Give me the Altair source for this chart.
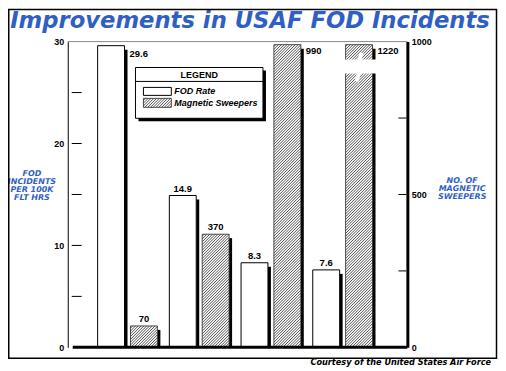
import altair as alt
import numpy as np
import pandas as pd

# ---------------- data ----------------
fod_rate = [29.6, 14.9, 8.3, 7.6]
sweepers = [70, 370, 990, 1220]
fod_label_ticks = [0, 10, 20, 30]
fod_minor_ticks = [5, 10, 15, 20, 25]
sw_label_ticks = [0, 500, 1000]
sw_minor_ticks = [250, 500, 750]
title_text = "Improvements in USAF FOD Incidents"
left_title = ["FOD", "INCIDENTS", "PER 100K", "FLT HRS"]
right_title = ["NO. OF", "MAGNETIC", "SWEEPERS"]
caption_text = "Courtesy of the United States Air Force"
legend_title = "LEGEND"
legend_labels = ["FOD Rate", "Magnetic Sweepers"]

# ---------------- layout / style ----------------
W, H = 341, 307
GROUP_PX = 72.0
X_MAX = W / GROUP_PX
FOD_OFF, SW_OFF, BAR_W = 30 / GROUP_PX, 63 / GROUP_PX, 27 / GROUP_PX
FOD_MAX, SW_MAX = 30, 1000
SW_CAP = 990          # broken bar is drawn up to this level
SH_DX = 3 / GROUP_PX  # drop-shadow width
SH_DROP_PX = 4
BLUE = "#2f5fc4"
LBL_FONT = "Liberation Sans"
HEAD_FONT = "DejaVu Sans"

xs = alt.Scale(domain=[0, X_MAX], nice=False, zero=False)
yl = alt.Scale(domain=[0, FOD_MAX], nice=False)
yr = alt.Scale(domain=[0, SW_MAX], nice=False)


def X(f):
    return alt.X(f"{f}:Q", scale=xs, axis=None)


def YL(f, axis=None):
    return alt.Y(f"{f}:Q", scale=yl, axis=axis)


def YR(f, axis=None):
    return alt.Y(f"{f}:Q", scale=yr, axis=axis)


one = pd.DataFrame({"k": [0]})

# bars tables
idx = np.arange(len(fod_rate))
fod = pd.DataFrame({"x": idx + FOD_OFF, "v": fod_rate})
fod["x2"] = fod["x"] + BAR_W
fod["xc"] = fod["x"] + BAR_W / 2
fod["sx2"] = fod["x2"] + SH_DX
fod["sy"] = fod["v"] - SH_DROP_PX * FOD_MAX / H
fod["zero"] = 0.0
fod["txt"] = [f"{v:.1f}" for v in fod_rate]
fod["frac"] = fod["v"] / FOD_MAX

sw = pd.DataFrame({"x": idx + SW_OFF, "v": sweepers})
sw["shown"] = np.minimum(sw["v"], SW_CAP)
sw["x2"] = sw["x"] + BAR_W
sw["xc"] = sw["x"] + BAR_W / 2
sw["sx2"] = sw["x2"] + SH_DX
sw["sy"] = sw["shown"] - SH_DROP_PX * SW_MAX / H
sw["zero"] = 0.0
sw["txt"] = [str(v) for v in sweepers]
sw["frac"] = sw["shown"] / SW_MAX


# hatch lines ("/" direction), computed in view pixels and converted to data units
def hatch(x0, x1, ytop, ybot, step=2.8):
    rows = []
    w, h = x1 - x0, ybot - ytop
    for c in np.arange(-w + step / 2, h, step):
        u0, u1 = max(0.0, -c), min(w, h - c)
        if u1 - u0 > 0.4:
            rows.append({
                "hx": (x0 + u0) / GROUP_PX, "hy": (u0 + c) / H * SW_MAX,
                "hx2": (x0 + u1) / GROUP_PX, "hy2": (u1 + c) / H * SW_MAX,
            })
    return rows


def px_to_val(ypx):
    return (H - ypx) / H * SW_MAX


bar_hatch = []
for _, r in sw.iterrows():
    x0, x1 = r["x"] * GROUP_PX, r["x2"] * GROUP_PX
    top = H - r["shown"] / SW_MAX * H
    for row in hatch(x0, x1, top, H):
        bar_hatch.append(row)
bar_hatch = pd.DataFrame(bar_hatch)

# legend geometry (view pixels)
LG = dict(x0=68, x1=196, y0=26, y1=77)
SW1 = dict(x0=76, x1=104, y0=46, y1=54)
SW2 = dict(x0=76, x1=104, y0=57, y1=66)
leg_h = []
for row in hatch(SW2["x0"], SW2["x1"], SW2["y0"], SW2["y1"]):
    off = (H - SW2["y1"]) / H * SW_MAX
    row["hy"] += off
    row["hy2"] += off
    leg_h.append(row)
leg_h = pd.DataFrame(leg_h)

# axis break of the 1220 bar: white band + white lightning crack
brk = sw.iloc[[3]].copy()
brk["bx"] = brk["x"] - 1 / GROUP_PX
brk["bx2"] = brk["sx2"] + 1 / GROUP_PX
brk["bu"] = px_to_val(18)
brk["bl"] = px_to_val(32)
crack = pd.DataFrame({
    "seq": [0, 1, 2, 3],
    "f": [0.60, 0.45, 0.56, 0.40],
    "py": [11, 24, 26, 40],
})
crack["cx"] = sw["x"].iloc[3] + crack["f"] * BAR_W
crack["cy"] = px_to_val(crack["py"])

left_axis = alt.Axis(orient="left", values=fod_label_ticks, ticks=False, grid=False,
                     domain=True, domainColor="black", domainWidth=1, title=None,
                     labelFont=LBL_FONT, labelFontWeight="bold", labelFontSize=9,
                     labelColor="black", labelPadding=4, format="d")
right_axis = alt.Axis(orient="right", values=sw_label_ticks, ticks=False, grid=False,
                      domain=True, domainColor="black", domainWidth=3, title=None,
                      labelFont=LBL_FONT, labelFontWeight="bold", labelFontSize=9,
                      labelColor="black", labelPadding=4, format="d")

layers = []

# top thin border of the plot
layers.append(alt.Chart(one).mark_rule(color="#888", strokeWidth=1).encode(
    x=alt.value(0), x2=alt.value(W), y=alt.value(0)))

# FOD shadows + bars
layers.append(alt.Chart(fod).mark_rect(color="black").encode(
    x=X("x2"), x2="sx2", y=YL("sy"), y2="zero"))
layers.append(alt.Chart(fod).mark_rect(fill="white", stroke="black", strokeWidth=1).encode(
    x=X("x"), x2="x2", y=YL("v", left_axis), y2="zero"))

# sweeper shadows + bars
layers.append(alt.Chart(sw).mark_rect(color="black").encode(
    x=X("x2"), x2="sx2", y=YR("sy"), y2="zero"))
layers.append(alt.Chart(sw).mark_rect(fill="white", stroke="#222", strokeWidth=0.8).encode(
    x=X("x"), x2="x2", y=YR("shown", right_axis), y2="zero"))
layers.append(alt.Chart(bar_hatch).mark_rule(color="#222", strokeWidth=0.8, strokeCap="butt").encode(
    x=X("hx"), x2="hx2", y=YR("hy"), y2="hy2"))

# axis break
layers.append(alt.Chart(brk).mark_rect(color="white").encode(
    x=X("bx"), x2="bx2", y=YR("bu"), y2="bl"))
layers.append(alt.Chart(crack).mark_line(color="white", strokeWidth=4, strokeCap="butt",
                                         strokeJoin="miter").encode(
    x=X("cx"), y=YR("cy"), order="seq:Q"))

# inward ticks
layers.append(alt.Chart(pd.DataFrame({"t": fod_minor_ticks})).mark_rule(color="black", strokeWidth=1).encode(
    y=YL("t"), x=alt.value(4), x2=alt.value(14)))
layers.append(alt.Chart(pd.DataFrame({"t": sw_minor_ticks})).mark_rule(color="black", strokeWidth=1).encode(
    y=YR("t"), x=alt.value(332), x2=alt.value(340)))

# bottom thick baseline
layers.append(alt.Chart(one).mark_rule(color="black", strokeWidth=3).encode(
    x=alt.value(5), x2=alt.value(W), y=alt.value(H)))

# value labels
lab = dict(font=LBL_FONT, fontWeight="bold", fontSize=9.5, color="black")
layers.append(alt.Chart(fod).transform_filter("datum.frac <= 0.9").mark_text(
    baseline="bottom", align="center", dy=-2, **lab).encode(
    x=X("xc"), y=YL("v"), text="txt:N"))
layers.append(alt.Chart(fod).transform_filter("datum.frac > 0.9").mark_text(
    baseline="top", align="left", dx=5, dy=3, **lab).encode(
    x=X("x2"), y=YL("v"), text="txt:N"))
layers.append(alt.Chart(sw).transform_filter("datum.frac <= 0.9").mark_text(
    baseline="bottom", align="center", dy=-2, **lab).encode(
    x=X("xc"), y=YR("shown"), text="txt:N"))
layers.append(alt.Chart(sw).transform_filter("datum.frac > 0.9").mark_text(
    baseline="top", align="left", dx=5, dy=1.5, **lab).encode(
    x=X("x2"), y=YR("shown"), text="txt:N"))

# legend
layers.append(alt.Chart(one).mark_rect(color="black").encode(
    x=alt.value(LG["x0"] + 3), x2=alt.value(LG["x1"] + 3),
    y=alt.value(LG["y0"] + 3), y2=alt.value(LG["y1"] + 3)))
layers.append(alt.Chart(one).mark_rect(fill="white", stroke="black", strokeWidth=1).encode(
    x=alt.value(LG["x0"]), x2=alt.value(LG["x1"]), y=alt.value(LG["y0"]), y2=alt.value(LG["y1"])))
layers.append(alt.Chart(one).mark_rule(color="black", strokeWidth=1).encode(
    x=alt.value(LG["x0"]), x2=alt.value(LG["x1"]), y=alt.value(40)))
layers.append(alt.Chart(one).mark_text(text=legend_title, font=LBL_FONT, fontWeight="bold",
                                       fontSize=9, baseline="middle", align="center").encode(
    x=alt.value((LG["x0"] + LG["x1"]) / 2), y=alt.value(33.5)))
layers.append(alt.Chart(one).mark_rect(fill="white", stroke="black", strokeWidth=1).encode(
    x=alt.value(SW1["x0"]), x2=alt.value(SW1["x1"]), y=alt.value(SW1["y0"]), y2=alt.value(SW1["y1"])))
layers.append(alt.Chart(one).mark_rect(fill="white", stroke="#222", strokeWidth=0.8).encode(
    x=alt.value(SW2["x0"]), x2=alt.value(SW2["x1"]), y=alt.value(SW2["y0"]), y2=alt.value(SW2["y1"])))
layers.append(alt.Chart(leg_h).mark_rule(color="#222", strokeWidth=0.8, strokeCap="butt").encode(
    x=X("hx"), x2="hx2", y=YR("hy"), y2="hy2"))
for lbl, yy in zip(legend_labels, [50, 61.5]):
    layers.append(alt.Chart(one).mark_text(text=lbl, font=LBL_FONT, fontWeight="bold", fontStyle="italic",
                                           fontSize=9, baseline="middle", align="left").encode(
        x=alt.value(107), y=alt.value(yy)))

# axis titles (first line positioned, following lines below)
ttl = dict(font=HEAD_FONT, fontWeight="bold", fontStyle="italic", fontSize=8, color=BLUE,
           align="center", baseline="middle", lineHeight=8)
layers.append(alt.Chart(one).mark_text(text=left_title, **ttl).encode(
    x=alt.value(-36), y=alt.value(133)))
layers.append(alt.Chart(one).mark_text(text=right_title, **ttl).encode(
    x=alt.value(396), y=alt.value(140)))

# main title
layers.append(alt.Chart(one).mark_text(text=title_text, font=HEAD_FONT, fontWeight="bold",
                                       fontStyle="italic", fontSize=22.8, color=BLUE,
                                       align="center", baseline="alphabetic").encode(
    x=alt.value(183), y=alt.value(-14)))

# frame and caption
layers.append(alt.Chart(one).mark_rect(fillOpacity=0, stroke="black", strokeWidth=1.5).encode(
    x=alt.value(-59.25), x2=alt.value(430.5), y=alt.value(-32.25), y2=alt.value(318)))
layers.append(alt.Chart(one).mark_text(text=caption_text, font=HEAD_FONT, fontWeight="bold",
                                       fontStyle="italic", fontSize=8.2, color="black",
                                       align="right", baseline="alphabetic").encode(
    x=alt.value(425), y=alt.value(325)))

chart = alt.layer(*layers).resolve_scale(y="independent").properties(
    width=W, height=H,
    padding={"left": 60, "top": 33, "right": 91, "bottom": 20},
    autosize=alt.AutoSizeParams(type="none"),
    background="white",
).configure_view(strokeWidth=0)

chart.save("out.html", embed_options={"renderer": "svg", "actions": False})
